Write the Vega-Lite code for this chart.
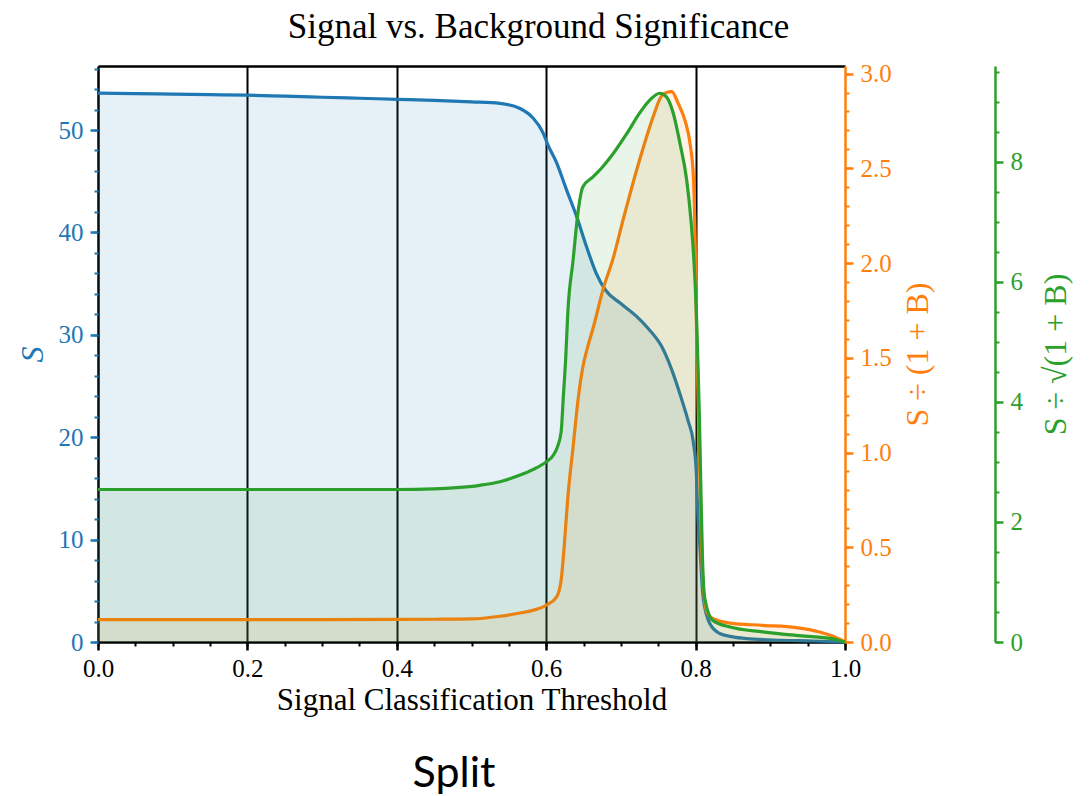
{
  "$schema": "https://vega.github.io/schema/vega-lite/v6.json",
  "width": 747,
  "height": 576,
  "autosize": "none",
  "padding": {"left": 98, "top": 66, "right": 246, "bottom": 154},
  "background": "white",
  "title": {"text": "Split", "orient": "bottom", "anchor": "middle", "frame": "group", "font": "Lato", "fontSize": 43, "fontWeight": "normal", "color": "black", "dx": -17.5, "offset": 38},
  "config": {
    "view": {"stroke": null},
    "font": "Liberation Serif",
    "axis": {"labelFont": "Liberation Serif", "titleFont": "Liberation Serif", "titleFontWeight": "normal", "grid": false, "labelFlush": false, "labelOverlap": false}
  },
  "datasets": {
    "s": [
      {"t": 0.0, "v": 53.6}, {"t": 0.05, "v": 53.55}, {"t": 0.1, "v": 53.5}, {"t": 0.15, "v": 53.45},
      {"t": 0.2, "v": 53.4}, {"t": 0.25, "v": 53.3}, {"t": 0.3, "v": 53.2}, {"t": 0.35, "v": 53.1},
      {"t": 0.4, "v": 53.0}, {"t": 0.45, "v": 52.9}, {"t": 0.5, "v": 52.75}, {"t": 0.538, "v": 52.6},
      {"t": 0.565, "v": 52.1}, {"t": 0.582, "v": 51.2}, {"t": 0.596, "v": 49.7}, {"t": 0.602, "v": 48.6},
      {"t": 0.614, "v": 46.8}, {"t": 0.627, "v": 44.2}, {"t": 0.641, "v": 41.5}, {"t": 0.654, "v": 38.6},
      {"t": 0.667, "v": 36.0}, {"t": 0.679, "v": 34.4}, {"t": 0.699, "v": 33.1}, {"t": 0.721, "v": 31.8},
      {"t": 0.738, "v": 30.5}, {"t": 0.755, "v": 28.8}, {"t": 0.768, "v": 26.6}, {"t": 0.78, "v": 24.0},
      {"t": 0.79, "v": 21.6}, {"t": 0.797, "v": 19.5}, {"t": 0.801, "v": 16.5}, {"t": 0.803, "v": 12.6},
      {"t": 0.806, "v": 9.0}, {"t": 0.81, "v": 4.4}, {"t": 0.819, "v": 1.8}, {"t": 0.833, "v": 0.8},
      {"t": 0.85, "v": 0.5}, {"t": 0.868, "v": 0.33}, {"t": 0.913, "v": 0.17}, {"t": 0.958, "v": 0.1},
      {"t": 1.0, "v": 0.0}
    ],
    "r": [
      {"t": 0.0, "v": 0.118}, {"t": 0.1, "v": 0.118}, {"t": 0.2, "v": 0.118}, {"t": 0.3, "v": 0.118},
      {"t": 0.4, "v": 0.119}, {"t": 0.45, "v": 0.12}, {"t": 0.5, "v": 0.122}, {"t": 0.538, "v": 0.136},
      {"t": 0.565, "v": 0.153}, {"t": 0.582, "v": 0.167}, {"t": 0.6, "v": 0.194}, {"t": 0.614, "v": 0.238},
      {"t": 0.62, "v": 0.326}, {"t": 0.624, "v": 0.5}, {"t": 0.629, "v": 0.766}, {"t": 0.636, "v": 1.03},
      {"t": 0.643, "v": 1.29}, {"t": 0.649, "v": 1.45}, {"t": 0.655, "v": 1.55}, {"t": 0.663, "v": 1.66},
      {"t": 0.676, "v": 1.86}, {"t": 0.69, "v": 2.03}, {"t": 0.703, "v": 2.23}, {"t": 0.716, "v": 2.42},
      {"t": 0.73, "v": 2.61}, {"t": 0.743, "v": 2.77}, {"t": 0.754, "v": 2.88}, {"t": 0.761, "v": 2.9},
      {"t": 0.768, "v": 2.905}, {"t": 0.777, "v": 2.84}, {"t": 0.786, "v": 2.75}, {"t": 0.793, "v": 2.62},
      {"t": 0.797, "v": 2.46}, {"t": 0.7995, "v": 2.1}, {"t": 0.801, "v": 1.7}, {"t": 0.803, "v": 1.35},
      {"t": 0.805, "v": 1.0}, {"t": 0.807, "v": 0.65}, {"t": 0.809, "v": 0.38}, {"t": 0.812, "v": 0.22},
      {"t": 0.816, "v": 0.15}, {"t": 0.823, "v": 0.124}, {"t": 0.846, "v": 0.1}, {"t": 0.89, "v": 0.088},
      {"t": 0.935, "v": 0.076}, {"t": 0.966, "v": 0.053}, {"t": 0.984, "v": 0.03}, {"t": 1.0, "v": 0.0}
    ],
    "z": [
      {"t": 0.0, "v": 2.54}, {"t": 0.1, "v": 2.54}, {"t": 0.2, "v": 2.54}, {"t": 0.3, "v": 2.54},
      {"t": 0.4, "v": 2.54}, {"t": 0.45, "v": 2.55}, {"t": 0.48, "v": 2.57}, {"t": 0.511, "v": 2.61},
      {"t": 0.538, "v": 2.67}, {"t": 0.565, "v": 2.78}, {"t": 0.582, "v": 2.87}, {"t": 0.6, "v": 3.0},
      {"t": 0.61, "v": 3.12}, {"t": 0.615, "v": 3.25}, {"t": 0.62, "v": 3.5}, {"t": 0.623, "v": 4.1},
      {"t": 0.626, "v": 4.7}, {"t": 0.629, "v": 5.5}, {"t": 0.636, "v": 6.36}, {"t": 0.643, "v": 7.2},
      {"t": 0.649, "v": 7.58}, {"t": 0.663, "v": 7.75}, {"t": 0.676, "v": 7.92}, {"t": 0.69, "v": 8.14},
      {"t": 0.708, "v": 8.47}, {"t": 0.725, "v": 8.81}, {"t": 0.739, "v": 9.03}, {"t": 0.752, "v": 9.14},
      {"t": 0.761, "v": 9.08}, {"t": 0.77, "v": 8.81}, {"t": 0.779, "v": 8.31}, {"t": 0.788, "v": 7.7},
      {"t": 0.794, "v": 7.0}, {"t": 0.798, "v": 6.3}, {"t": 0.801, "v": 5.5}, {"t": 0.803, "v": 4.7},
      {"t": 0.805, "v": 3.8}, {"t": 0.807, "v": 2.6}, {"t": 0.809, "v": 1.5}, {"t": 0.812, "v": 0.75},
      {"t": 0.823, "v": 0.36}, {"t": 0.846, "v": 0.25}, {"t": 0.89, "v": 0.17}, {"t": 0.935, "v": 0.11},
      {"t": 0.98, "v": 0.06}, {"t": 1.0, "v": 0.0}
    ]
  },
  "resolve": {"scale": {"y": "independent"}, "axis": {"x": "independent", "y": "independent"}},
  "layer": [
    {
      "data": {"name": "s"},
      "resolve": {"axis": {"x": "independent", "y": "independent"}},
      "layer": [
        {
          "mark": {"type": "area", "color": "#1f77b4", "fillOpacity": 0.11, "interpolate": "monotone"},
          "encoding": {
            "x": {"field": "t", "type": "quantitative", "scale": {"domain": [0, 1], "nice": false},
              "axis": {"orient": "bottom", "values": [0, 0.2, 0.4, 0.6, 0.8, 1], "format": ".1f", "domainColor": "black", "domainWidth": 2.5, "tickColor": "black", "tickWidth": 2.5, "tickSize": 8, "labelFontSize": 25, "labelColor": "black", "labelPadding": 6, "title": "Signal Classification Threshold", "titleFontSize": 31, "titleColor": "black", "titleY": 67, "titleBaseline": "alphabetic", "titleAlign": "center", "titleX": 373.5}},
            "y": {"field": "v", "type": "quantitative", "scale": {"domain": [0, 56.25], "nice": false},
              "axis": {"orient": "left", "values": [0, 10, 20, 30, 40, 50], "domainColor": "black", "domainWidth": 2.5, "tickColor": "#1f77b4", "tickWidth": 2.5, "tickSize": 8, "labelColor": "#1f77b4", "labelFontSize": 25, "labelPadding": 7, "title": "S", "titleColor": "#1f77b4", "titleFontSize": 32, "titleFontStyle": "italic", "titleAngle": 270, "titleX": -66, "titleY": 288, "titleBaseline": "middle", "titleAlign": "center"}}
          }
        },
        {
          "mark": {"type": "line", "color": "#1f77b4", "strokeWidth": 3.2, "interpolate": "monotone"},
          "encoding": {
            "x": {"field": "t", "type": "quantitative", "scale": {"domain": [0, 1], "nice": false},
              "axis": {"orient": "bottom", "values": [0, 0.05, 0.1, 0.15, 0.2, 0.25, 0.3, 0.35, 0.4, 0.45, 0.5, 0.55, 0.6, 0.65, 0.7, 0.75, 0.8, 0.85, 0.9, 0.95, 1], "domain": false, "labels": false, "tickColor": "black", "tickWidth": 2, "tickSize": 4, "title": null}},
            "y": {"field": "v", "type": "quantitative", "scale": {"domain": [0, 56.25], "nice": false},
              "axis": {"orient": "left", "values": [0, 2, 4, 6, 8, 10, 12, 14, 16, 18, 20, 22, 24, 26, 28, 30, 32, 34, 36, 38, 40, 42, 44, 46, 48, 50, 52, 54, 56], "domain": false, "labels": false, "tickColor": "#1f77b4", "tickWidth": 2, "tickSize": 4, "title": null}}
          }
        }
      ]
    },
    {
      "data": {"name": "r"},
      "resolve": {"axis": {"x": "independent", "y": "independent"}},
      "layer": [
        {
          "mark": {"type": "area", "color": "#ff7f0e", "fillOpacity": 0.1, "interpolate": "monotone"},
          "encoding": {
            "x": {"field": "t", "type": "quantitative", "scale": {"domain": [0, 1], "nice": false},
              "axis": {"orient": "top", "values": [0.2, 0.4, 0.6, 0.8], "grid": true, "gridColor": "black", "gridWidth": 2, "gridOpacity": 1, "ticks": false, "labels": false, "domainColor": "black", "domainWidth": 2.5, "title": "Signal vs. Background Significance", "titleFontSize": 35, "titleColor": "black", "titleX": 440, "titleY": -29, "titleBaseline": "alphabetic", "titleAlign": "center"}},
            "y": {"field": "v", "type": "quantitative", "scale": {"domain": [0, 3.04], "nice": false},
              "axis": {"orient": "right", "values": [0, 0.5, 1, 1.5, 2, 2.5, 3], "format": ".1f", "domainColor": "#ff7f0e", "domainWidth": 2.5, "tickColor": "#ff7f0e", "tickWidth": 2.5, "tickSize": 8, "labelColor": "#ff7f0e", "labelFontSize": 25, "labelPadding": 7, "title": "S ÷ (1 + B)", "titleColor": "#ff7f0e", "titleFontSize": 32, "titleAngle": 270, "titleX": 72, "titleY": 288, "titleBaseline": "middle", "titleAlign": "center"}}
          }
        },
        {
          "mark": {"type": "line", "color": "#ff7f0e", "strokeWidth": 3.2, "interpolate": "monotone"},
          "encoding": {
            "x": {"field": "t", "type": "quantitative", "scale": {"domain": [0, 1], "nice": false}, "axis": null},
            "y": {"field": "v", "type": "quantitative", "scale": {"domain": [0, 3.04], "nice": false},
              "axis": {"orient": "right", "values": [0, 0.1, 0.2, 0.3, 0.4, 0.5, 0.6, 0.7, 0.8, 0.9, 1, 1.1, 1.2, 1.3, 1.4, 1.5, 1.6, 1.7, 1.8, 1.9, 2, 2.1, 2.2, 2.3, 2.4, 2.5, 2.6, 2.7, 2.8, 2.9, 3], "domain": false, "labels": false, "tickColor": "#ff7f0e", "tickWidth": 2, "tickSize": 4, "title": null}}
          }
        }
      ]
    },
    {
      "data": {"name": "z"},
      "resolve": {"axis": {"x": "independent", "y": "independent"}},
      "layer": [
        {
          "mark": {"type": "area", "color": "#2ca02c", "fillOpacity": 0.1, "interpolate": "monotone"},
          "encoding": {
            "x": {"field": "t", "type": "quantitative", "scale": {"domain": [0, 1], "nice": false}, "axis": null},
            "y": {"field": "v", "type": "quantitative", "scale": {"domain": [0, 9.594], "nice": false},
              "axis": {"orient": "right", "offset": 150, "values": [0, 2, 4, 6, 8], "domainColor": "#2ca02c", "domainWidth": 2.5, "tickColor": "#2ca02c", "tickWidth": 2.5, "tickSize": 8, "labelColor": "#2ca02c", "labelFontSize": 25, "labelPadding": 7, "title": "S ÷ √(1 + B)", "titleColor": "#2ca02c", "titleFontSize": 32, "titleAngle": 270, "titleX": 60, "titleY": 288, "titleBaseline": "middle", "titleAlign": "center"}}
          }
        },
        {
          "mark": {"type": "line", "color": "#2ca02c", "strokeWidth": 3.2, "interpolate": "monotone"},
          "encoding": {
            "x": {"field": "t", "type": "quantitative", "scale": {"domain": [0, 1], "nice": false}, "axis": null},
            "y": {"field": "v", "type": "quantitative", "scale": {"domain": [0, 9.594], "nice": false},
              "axis": {"orient": "right", "offset": 150, "values": [0, 0.5, 1, 1.5, 2, 2.5, 3, 3.5, 4, 4.5, 5, 5.5, 6, 6.5, 7, 7.5, 8, 8.5, 9, 9.5], "domain": false, "labels": false, "tickColor": "#2ca02c", "tickWidth": 2, "tickSize": 4, "title": null}}
          }
        }
      ]
    }
  ]
}
